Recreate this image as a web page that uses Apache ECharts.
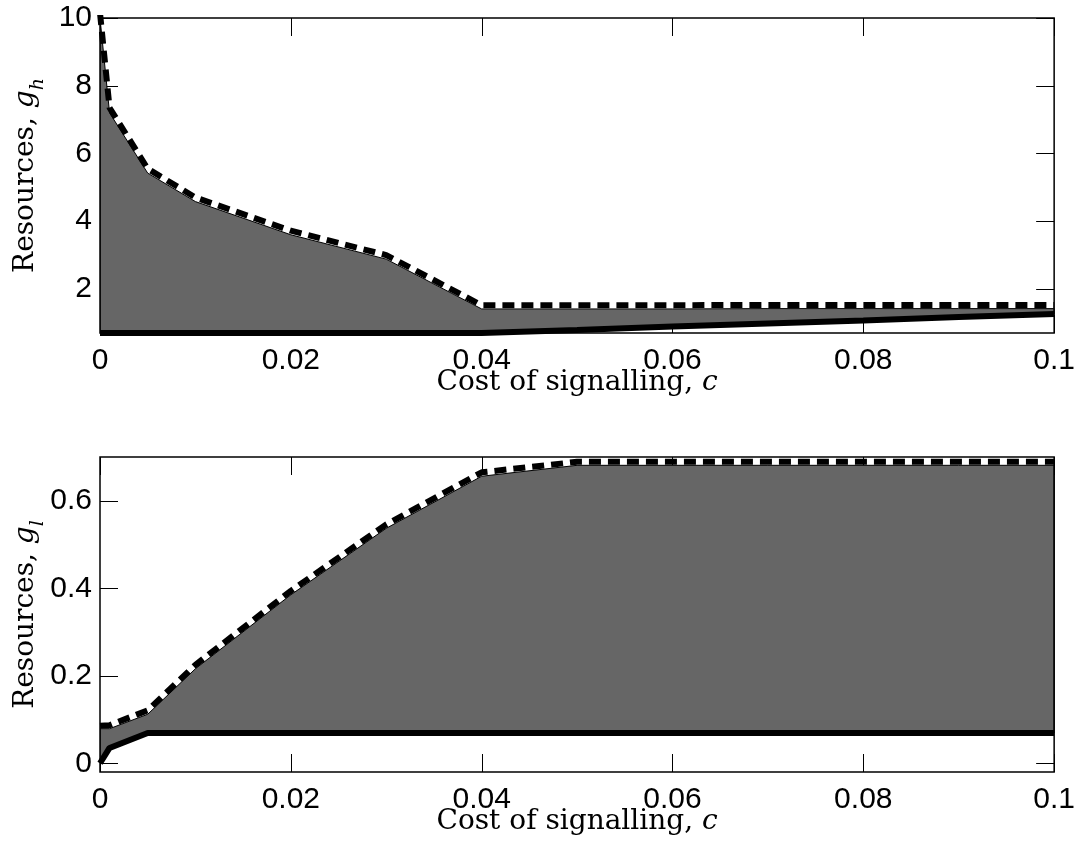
<!DOCTYPE html>
<html><head><meta charset="utf-8">
<script src="https://cdn.jsdelivr.net/npm/echarts@6/dist/echarts.min.js"></script>
<style>html,body{margin:0;padding:0;background:#fff}#c{width:1078px;height:847px}</style>
</head><body><div id="c"></div>
<script>
// Shared x values: cost of signalling
const cost = [0, 0.001, 0.005, 0.01, 0.02, 0.03, 0.04, 0.05, 0.06, 0.07, 0.08, 0.09, 0.1];
// Top panel (g_h)
const ghUpperFill = [10, 7.2, 5.42, 4.58, 3.6, 2.88, 1.41, 1.41, 1.41, 1.42, 1.42, 1.42, 1.42];
const ghUpperDash = [10.15, 7.35, 5.55, 4.7, 3.72, 3.0, 1.52, 1.52, 1.52, 1.53, 1.53, 1.53, 1.53];
const ghLower = [0.7, 0.7, 0.7, 0.7, 0.7, 0.7, 0.7, 0.79, 0.89, 0.98, 1.07, 1.17, 1.26];
// Bottom panel (g_l)
const glUpperFill = [0.079, 0.079, 0.112, 0.216, 0.385, 0.537, 0.656, 0.681, 0.681, 0.681, 0.681, 0.681, 0.681];
const glUpperDash = [0.086, 0.087, 0.121, 0.225, 0.394, 0.546, 0.665, 0.689, 0.689, 0.689, 0.689, 0.689, 0.689];
const glLower = [0, 0.035, 0.069, 0.069, 0.069, 0.069, 0.069, 0.069, 0.069, 0.069, 0.069, 0.069, 0.069];
// Tick labels
const xTicks = [0, 0.02, 0.04, 0.06, 0.08, 0.1];
const ghTicks = [2, 4, 6, 8, 10];
const glTicks = [0, 0.2, 0.4, 0.6];

const SANS = "'Liberation Sans', Arial, Helvetica, sans-serif";
const SERIF = "'DejaVu Serif', serif";
const TICK_LEN = 18;

function pairs(xs, ys) { return xs.map((x, i) => [x, ys[i]]); }

function bandRender(xs, up, lo) {
  return function (params, api) {
    const pts = [];
    for (let i = 0; i < xs.length; i++) pts.push(api.coord([xs[i], up[i]]));
    for (let i = xs.length - 1; i >= 0; i--) pts.push(api.coord([xs[i], lo[i]]));
    return { type: 'polygon', shape: { points: pts },
      style: { fill: '#666666', stroke: '#000', lineWidth: 1 } };
  };
}

// Inward ticks on all four sides, placed through the axis scales
function xTickRender(params, api) {
  const cs = params.coordSys;
  const x = Math.round(api.coord([api.value(0), api.value(1)])[0]) + 0.5;
  const b = cs.y + cs.height, t = cs.y;
  return { type: 'group', children: [
    { type: 'line', shape: { x1: x, y1: b, x2: x, y2: b - TICK_LEN }, style: { stroke: '#000', lineWidth: 1 } },
    { type: 'line', shape: { x1: x, y1: t, x2: x, y2: t + TICK_LEN }, style: { stroke: '#000', lineWidth: 1 } }
  ] };
}
function yTickRender(params, api) {
  const cs = params.coordSys;
  const y = Math.round(api.coord([api.value(0), api.value(1)])[1]) + 0.5;
  const l = cs.x, r = cs.x + cs.width;
  return { type: 'group', children: [
    { type: 'line', shape: { x1: l, y1: y, x2: l + TICK_LEN, y2: y }, style: { stroke: '#000', lineWidth: 1 } },
    { type: 'line', shape: { x1: r, y1: y, x2: r - TICK_LEN, y2: y }, style: { stroke: '#000', lineWidth: 1 } }
  ] };
}

const labelStyle = { color: '#000', fontSize: 30, fontFamily: SANS };
const nameRich = {
  r: { fontFamily: SERIF, fontSize: 28, color: '#000', padding: [0, 0, 8, 0], verticalAlign: 'bottom' },
  i: { fontFamily: SERIF, fontSize: 28, fontStyle: 'italic', color: '#000', padding: [0, 0, 8, 0], verticalAlign: 'bottom' },
  s: { fontFamily: SERIF, fontSize: 19, fontStyle: 'italic', color: '#000', verticalAlign: 'bottom' }
};

function xAxis(g) {
  return { gridIndex: g, type: 'value', min: 0, max: 0.1, position: 'bottom',
    axisLine: { show: false }, splitLine: { show: false }, axisTick: { show: false },
    axisLabel: Object.assign({ customValues: xTicks, margin: 13 }, labelStyle),
    name: '{r|Cost of signalling, }{i|c}', nameLocation: 'middle', nameGap: 36, nameMoveOverlap: false,
    nameTextStyle: { rich: nameRich } };
}
function yAxis(g, min, max, ticks, sub) {
  return { gridIndex: g, type: 'value', min: min, max: max, position: 'left',
    axisLine: { show: false }, splitLine: { show: false }, axisTick: { show: false },
    axisLabel: Object.assign({ customValues: ticks, margin: 8, padding: [5, 0, 0, 0] }, labelStyle),
    name: '{r|Resources, }{i|g}{s|' + sub + '}', nameLocation: 'middle', nameGap: 52, nameRotate: 90,
    nameMoveOverlap: false,
    nameTextStyle: { rich: nameRich } };
}

function panelSeries(ax, xs, upFill, upDash, lo, yTicks, yAnchor) {
  return [
    { type: 'custom', xAxisIndex: ax, yAxisIndex: ax, z: 1, clip: false, silent: true,
      data: xTicks.map(v => [v, yAnchor]), renderItem: xTickRender },
    { type: 'custom', xAxisIndex: ax, yAxisIndex: ax, z: 1, clip: false, silent: true,
      data: yTicks.map(v => [0, v]), renderItem: yTickRender },
    { type: 'custom', xAxisIndex: ax, yAxisIndex: ax, z: 5, clip: true, silent: true,
      data: [[0, yAnchor]], renderItem: bandRender(xs, upFill, lo) },
    { type: 'line', xAxisIndex: ax, yAxisIndex: ax, z: 6, showSymbol: false, data: pairs(xs, lo),
      lineStyle: { color: '#000', width: 6 } },
    { type: 'line', xAxisIndex: ax, yAxisIndex: ax, z: 7, showSymbol: false, data: pairs(xs, upDash),
      lineStyle: { color: '#000', width: 6, type: [12, 7] } }
  ];
}

const chart = echarts.init(document.getElementById('c'), null, { renderer: 'canvas' });
const gridBase = { show: true, z: 20, borderColor: '#000', borderWidth: 1.5, backgroundColor: 'transparent', left: 100, right: 19, height: 315 };
chart.setOption({
  animation: false,
  backgroundColor: '#fff',
  grid: [Object.assign({ top: 18 }, gridBase), Object.assign({ top: 457 }, gridBase)],
  xAxis: [xAxis(0), xAxis(1)],
  yAxis: [yAxis(0, 0.7, 10, ghTicks, 'h'), yAxis(1, -0.02, 0.7, glTicks, 'l')],
  series: panelSeries(0, cost, ghUpperFill, ghUpperDash, ghLower, ghTicks, 1)
    .concat(panelSeries(1, cost, glUpperFill, glUpperDash, glLower, glTicks, 0.1))
});
</script></body></html>
